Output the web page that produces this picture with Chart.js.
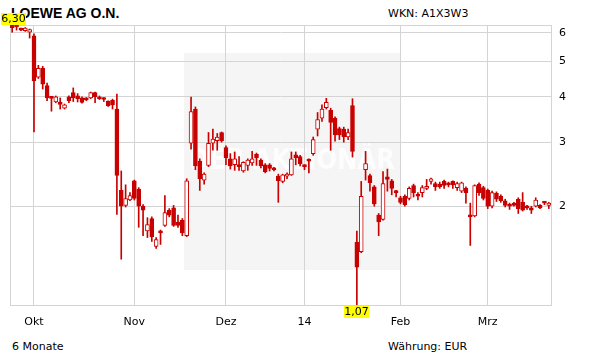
<!DOCTYPE html>
<html>
<head>
<meta charset="utf-8">
<script src="https://cdn.jsdelivr.net/npm/chart.js@4.4.1/dist/chart.umd.min.js"></script>
<style>
  body { margin: 0; background: #fff; }
  #wrap { position: relative; width: 611px; height: 364px; font-family: "DejaVu Sans", sans-serif; font-size: 11px; color: #000; }
  .t { position: absolute; line-height: 13px; white-space: nowrap; }
  canvas { position: absolute; left: 0; top: 0; }
</style>
</head>
<body>
<div id="wrap">
  <div class="t" style="left:11px;top:5px;font:bold 14px 'Liberation Sans',Arial,sans-serif;">LOEWE AG O.N.</div>
  <div class="t" style="left:388px;top:7px;">WKN: A1X3W3</div>
  <div class="t" style="left:12px;top:340px;">6 Monate</div>
  <div class="t" style="left:388px;top:340px;">Währung: EUR</div>
  <canvas id="chart" width="611" height="364"></canvas>
</div>
<script>
(() => {
	'use strict'

	// daily candles, Sep 2013 - Mar 2014
	const opens = [
		6.29, 6.25, 6.12, 6.08, 6.02, 5.88, 4.53, 4.79, 4.29, 3.98,
		3.87, 3.87, 3.72, 4.00, 4.11, 4.02, 3.97, 3.97, 3.97, 4.11,
		4.00, 3.97, 3.89, 3.91, 3.70, 2.21, 2.01, 2.08, 2.35, 2.23,
		2.00, 1.71, 1.85, 1.55, 1.71, 1.77, 1.95, 1.98, 1.81, 1.83,
		1.66, 2.98, 3.70, 2.66, 2.36, 2.59, 2.98, 3.03, 3.19, 2.90,
		2.70, 2.60, 2.59, 2.50, 2.59, 2.63, 2.78, 2.68, 2.60, 2.60,
		2.54, 2.42, 2.34, 2.42, 2.44, 2.77, 2.74, 2.59, 2.68, 2.79,
		3.26, 3.49, 3.73, 3.67, 3.49, 3.27, 3.26, 3.10, 3.78, 1.59,
		1.50, 2.52, 2.43, 2.26, 1.89, 1.84, 2.41, 2.35, 2.20, 2.11,
		2.13, 2.10, 2.28, 2.15, 2.18, 2.24, 2.34, 2.31, 2.30, 2.34,
		2.31, 2.34, 2.25, 2.20, 2.24, 1.89, 1.88, 2.30, 2.25, 2.21,
		2.00, 2.17, 2.13, 2.07, 2.01, 2.03, 2.09, 2.05, 2.00, 1.98,
		2.00, 2.01, 2.05, 2.01
	]
	const highs = [
		6.30, 6.28, 6.18, 6.20, 6.14, 5.96, 4.88, 4.85, 4.36, 4.00,
		4.02, 3.97, 3.82, 4.02, 4.23, 4.08, 4.00, 3.98, 4.12, 4.12,
		4.02, 3.98, 3.90, 3.94, 4.07, 2.50, 2.29, 2.18, 2.36, 2.25,
		2.02, 1.86, 1.87, 1.64, 1.72, 2.14, 1.97, 2.01, 1.89, 1.85,
		2.38, 3.99, 3.75, 2.70, 2.47, 3.19, 3.26, 3.17, 3.20, 2.93,
		2.79, 2.82, 2.74, 2.65, 2.70, 2.83, 2.80, 2.70, 2.62, 2.62,
		2.56, 2.45, 2.45, 2.47, 2.82, 2.82, 2.76, 2.60, 2.70, 3.10,
		3.62, 3.80, 3.96, 3.72, 3.52, 3.30, 3.30, 3.26, 3.95, 1.71,
		2.34, 2.83, 2.45, 2.28, 1.91, 2.49, 2.53, 2.37, 2.21, 2.13,
		2.15, 2.26, 2.30, 2.18, 2.28, 2.37, 2.39, 2.33, 2.33, 2.36,
		2.33, 2.35, 2.33, 2.33, 2.26, 2.04, 2.29, 2.32, 2.27, 2.23,
		2.20, 2.19, 2.15, 2.09, 2.04, 2.05, 2.11, 2.18, 2.01, 2.00,
		2.11, 2.02, 2.06, 2.05
	]
	const lows = [
		6.02, 6.10, 6.08, 6.05, 5.80, 3.20, 4.49, 4.20, 3.90, 3.65,
		3.85, 3.70, 3.70, 3.85, 3.88, 3.87, 3.84, 3.90, 3.95, 3.85,
		3.93, 3.88, 3.76, 3.70, 1.90, 1.43, 1.99, 2.07, 2.08, 1.75,
		1.66, 1.64, 1.60, 1.53, 1.57, 1.76, 1.87, 1.76, 1.75, 1.66,
		1.65, 2.87, 2.52, 2.21, 2.30, 2.57, 2.85, 2.85, 3.00, 2.60,
		2.53, 2.51, 2.51, 2.48, 2.51, 2.59, 2.59, 2.55, 2.47, 2.50,
		2.50, 2.05, 2.32, 2.38, 2.43, 2.60, 2.58, 2.52, 2.47, 2.76,
		3.12, 3.42, 3.70, 2.85, 3.02, 3.05, 3.00, 3.05, 2.73, 1.07,
		1.49, 2.36, 2.20, 2.00, 1.66, 1.83, 2.20, 2.15, 2.12, 2.03,
		2.00, 2.08, 2.12, 2.08, 2.12, 2.22, 2.30, 2.21, 2.24, 2.24,
		2.26, 2.24, 2.21, 2.18, 2.04, 1.56, 1.87, 2.14, 2.08, 1.97,
		1.98, 2.06, 2.05, 1.99, 1.96, 2.00, 1.91, 1.94, 1.96, 1.91,
		1.99, 1.97, 2.02, 1.97
	]
	const closes = [
		6.19, 6.22, 6.10, 6.18, 6.12, 4.42, 4.79, 4.33, 3.97, 3.96,
		4.00, 3.81, 3.80, 3.90, 3.97, 3.95, 3.86, 3.92, 4.11, 4.00,
		3.95, 3.93, 3.78, 3.80, 2.43, 2.00, 2.10, 2.14, 2.10, 2.00,
		1.95, 1.78, 1.65, 1.62, 1.69, 1.92, 1.89, 1.77, 1.77, 1.69,
		2.35, 3.64, 2.58, 2.38, 2.45, 2.98, 3.06, 3.10, 3.03, 2.72,
		2.58, 2.70, 2.57, 2.64, 2.68, 2.70, 2.72, 2.58, 2.49, 2.54,
		2.52, 2.35, 2.44, 2.45, 2.70, 2.72, 2.62, 2.57, 2.66, 3.05,
		3.46, 3.70, 3.86, 3.40, 3.14, 3.14, 3.10, 3.19, 2.83, 1.36,
		2.13, 2.62, 2.32, 2.03, 1.81, 2.31, 2.37, 2.24, 2.18, 2.05,
		2.02, 2.24, 2.18, 2.13, 2.25, 2.27, 2.38, 2.26, 2.26, 2.28,
		2.29, 2.29, 2.31, 2.32, 2.18, 1.87, 2.28, 2.18, 2.10, 2.00,
		2.18, 2.09, 2.07, 2.01, 2.00, 2.01, 1.97, 1.95, 1.98, 1.95,
		2.08, 1.98, 2.04, 2.04
	]
	// first trading day of each month -> label
	const tickLabels = { 5: 'Okt', 28: 'Nov', 49: 'Dez', 67: '14', 89: 'Feb', 109: 'Mrz' }
	const yTicks = [2, 3, 4, 5, 6]

	const RED = '#c80000'
	const GRID = '#d4d4d4'
	const FONT = { family: 'DejaVu Sans', size: 11 }

	const days = opens.map((v, i) => String(i))
	const bodies = opens.map((o, i) => [o, closes[i]])
	const wicks = lows.map((l, i) => [l, highs[i]])
	const fills = opens.map((o, i) => closes[i] < o ? RED : '#ffffff')

	const fmt = v => v.toFixed(2).replace('.', ',')

	// grey box with the faint watermark behind the candles
	const backdrop = {
		id: 'backdrop',
		beforeDraw(chart) {
			const c = chart.ctx
			c.save()
			c.fillStyle = '#f5f5f5'
			c.fillRect(184, 53, 216, 217)
			c.fillStyle = 'rgba(255,255,255,0.75)'
			c.font = 'bold 28px "DejaVu Sans"'
			c.textAlign = 'center'
			c.textBaseline = 'middle'
			c.fillText('DER AKTIONÄR', 292, 162, 206)
			c.restore()
		},
		beforeDatasetsDraw(chart) {
			const a = chart.chartArea
			const c = chart.ctx
			c.save()
			c.strokeStyle = GRID
			c.lineWidth = 1
			c.strokeRect(Math.round(a.left) + 0.5, Math.round(a.top) + 0.5, Math.round(a.right - a.left), Math.round(a.bottom - a.top))
			c.restore()
		}
	}

	// yellow boxes for period high and low
	const extremes = {
		id: 'extremes',
		afterDraw(chart) {
			const c = chart.ctx
			const xs = chart.scales.x
			const ys = chart.scales.y
			const hi = Math.max(...highs)
			const lo = Math.min(...lows)
			const hiX = xs.getPixelForValue(highs.indexOf(hi))
			const loX = xs.getPixelForValue(lows.indexOf(lo))
			c.save()
			c.font = '11px "DejaVu Sans"'
			c.textAlign = 'center'
			c.textBaseline = 'middle'
			const tag = (text, x, top) => {
				const w = 25, h = 12
				const left = Math.max(1, Math.round(x - w / 2))
				c.fillStyle = '#ffff00'
				c.fillRect(left, top, w, h)
				c.fillStyle = '#000'
				c.fillText(text, left + w / 2, top + h / 2 + 0.5)
			}
			tag(fmt(hi), hiX, Math.round(ys.getPixelForValue(hi)) - 12)
			tag(fmt(lo), loX, Math.round(ys.getPixelForValue(lo)) + 1)
			c.restore()
		}
	}

	// eslint-disable-next-line no-unused-vars
	const myChart = new Chart(document.getElementById('chart'), {
		type: 'bar',
		data: {
			labels: days,
			datasets: [{
				label: 'Body',
				data: bodies,
				backgroundColor: fills,
				borderColor: RED,
				borderWidth: 1,
				borderSkipped: false,
				barThickness: 4,
				minBarLength: 2,
				grouped: false
			}, {
				label: 'Wick',
				data: wicks,
				backgroundColor: RED,
				borderWidth: 0,
				barThickness: 1,
				grouped: false
			}]
		},
		options: {
			responsive: false,
			animation: false,
			layout: { padding: { left: 10, top: 25, right: 0, bottom: 0 } },
			plugins: {
				legend: { display: false },
				tooltip: { enabled: false }
			},
			scales: {
				x: {
					offset: true,
					afterFit(scale) { scale.height = 59 },
					grid: {
						offset: false,
						drawTicks: false,
						color: ctx => tickLabels[ctx.index] ? GRID : 'rgba(0,0,0,0)'
					},
					border: { color: GRID },
					ticks: {
						autoSkip: false,
						maxRotation: 0,
						padding: 11,
						color: '#000',
						font: FONT,
						callback: (v, i) => tickLabels[i] || ''
					}
				},
				y: {
					type: 'logarithmic',
					position: 'right',
					min: Math.min(...lows),
					max: Math.max(...highs),
					afterFit(scale) { scale.width = 60 },
					afterBuildTicks(scale) { scale.ticks = yTicks.map(v => ({ value: v })) },
					grid: { drawTicks: false, color: GRID },
					border: { color: GRID },
					ticks: {
						padding: 8,
						color: '#000',
						font: FONT,
						callback: v => String(v)
					}
				}
			}
		},
		plugins: [backdrop, extremes]
	})
})()
</script>
</body>
</html>
